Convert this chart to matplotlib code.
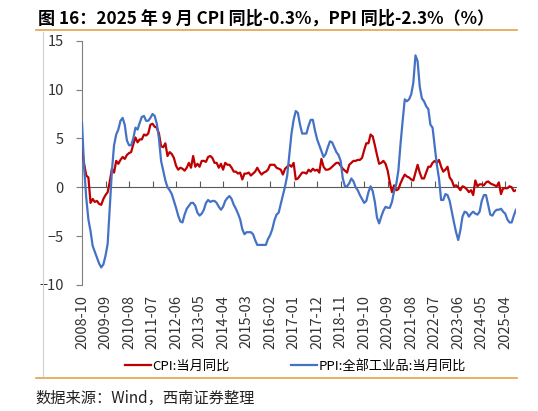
import numpy as np
import pandas as pd
import matplotlib.pyplot as plt
from matplotlib.lines import Line2D

plt.rcParams['font.family'] = ['Noto Sans CJK SC', 'DejaVu Sans']

# 月度数据：2008-10 至 2025-09
months = pd.period_range('2008-10', '2025-09', freq='M').strftime('%Y-%m').tolist()

cpi = [4.0, 2.4, 1.2,
       1.0, -1.6, -1.2, -1.5, -1.4, -1.7, -1.8, -1.2, -0.8, -0.5, 0.6, 1.9,
       1.5, 2.7, 2.4, 2.8, 3.1, 2.9, 3.3, 3.5, 3.6, 4.4, 5.1, 4.6,
       4.9, 4.9, 5.4, 5.3, 5.5, 6.4, 6.5, 6.2, 6.1, 5.5, 4.2, 4.1,
       4.5, 3.2, 3.6, 3.4, 3.0, 2.2, 1.8, 2.0, 1.9, 1.7, 2.0, 2.5,
       2.0, 3.2, 2.1, 2.4, 2.1, 2.7, 2.7, 2.6, 3.1, 3.2, 3.0, 2.5,
       2.5, 2.0, 2.4, 1.8, 2.5, 2.3, 2.3, 2.0, 1.6, 1.6, 1.4, 1.5,
       0.8, 1.4, 1.4, 1.5, 1.2, 1.4, 1.6, 2.0, 1.6, 1.3, 1.5, 1.6,
       1.8, 2.3, 2.3, 2.3, 2.0, 1.9, 1.8, 1.3, 1.9, 2.1, 2.3, 2.1,
       2.5, 0.8, 0.9, 1.2, 1.5, 1.5, 1.4, 1.8, 1.6, 1.9, 1.7, 1.8,
       1.5, 2.9, 2.1, 1.8, 1.8, 1.9, 2.1, 2.3, 2.5, 2.5, 2.2, 1.9,
       1.7, 1.5, 2.3, 2.5, 2.7, 2.7, 2.8, 2.8, 3.0, 3.8, 4.5, 4.5,
       5.4, 5.2, 4.3, 3.3, 2.4, 2.5, 2.7, 2.4, 1.7, 0.5, -0.5, 0.2,
       -0.3, -0.2, 0.4, 0.9, 1.3, 1.1, 1.0, 0.8, 0.7, 1.5, 2.3, 1.5,
       0.9, 0.9, 1.5, 2.1, 2.1, 2.5, 2.7, 2.5, 2.8, 2.1, 1.6, 1.8,
       2.1, 1.0, 0.7, 0.1, 0.2, 0.0, -0.3, 0.1, 0.0, -0.2, -0.5, -0.3,
       -0.8, 0.7, 0.1, 0.3, 0.3, 0.2, 0.5, 0.6, 0.4, 0.3, 0.2, 0.1,
       0.5, -0.7, -0.1, -0.1, -0.1, 0.1, 0.0, -0.4, -0.3]

ppi = [6.6, 2.0, -1.1,
       -3.3, -4.5, -6.0, -6.6, -7.2, -7.8, -8.2, -7.9, -7.0, -5.8, -2.1, 1.7,
       4.3, 5.4, 5.9, 6.8, 7.1, 6.4, 4.8, 4.3, 4.3, 5.0, 6.1, 5.9,
       6.6, 7.2, 7.3, 6.8, 6.8, 7.1, 7.5, 7.3, 6.5, 5.0, 2.7, 1.7,
       0.7, 0.0, -0.3, -0.7, -1.4, -2.1, -2.9, -3.5, -3.6, -2.8, -2.2, -1.9,
       -1.6, -1.6, -1.9, -2.6, -2.9, -2.7, -2.3, -1.6, -1.3, -1.5, -1.4, -1.4,
       -1.6, -2.0, -2.3, -2.0, -1.4, -1.1, -0.9, -1.2, -1.8, -2.2, -2.7, -3.3,
       -4.3, -4.8, -4.6, -4.6, -4.6, -4.8, -5.4, -5.9, -5.9, -5.9, -5.9, -5.9,
       -5.3, -4.9, -4.3, -3.4, -2.8, -2.6, -1.7, -0.8, 0.1, 1.2, 3.3, 5.5,
       6.9, 7.8, 7.6, 6.4, 5.5, 5.5, 5.5, 6.3, 6.9, 6.9, 5.8, 4.9,
       4.3, 3.7, 3.1, 3.4, 4.1, 4.7, 4.6, 4.1, 3.6, 3.3, 2.7, 0.9,
       0.1, 0.1, 0.4, 0.9, 0.6, 0.0, -0.3, -0.8, -1.2, -1.6, -1.4, -0.5,
       0.1, -0.4, -1.5, -3.1, -3.7, -3.0, -2.4, -2.0, -2.1, -2.1, -1.5, -0.4,
       0.3, 1.7, 4.4, 6.8, 9.0, 8.8, 9.0, 9.5, 10.7, 13.5, 12.9, 10.3,
       9.1, 8.8, 8.3, 8.0, 6.4, 6.1, 4.2, 2.3, 0.9, -1.3, -1.3, -0.7,
       -0.8, -1.4, -2.5, -3.6, -4.6, -5.4, -4.4, -3.0, -2.5, -2.6, -3.0, -2.7,
       -2.5, -2.7, -2.8, -2.5, -1.4, -0.8, -0.8, -1.8, -2.8, -2.9, -2.5, -2.3,
       -2.3, -2.2, -2.5, -2.7, -3.3, -3.6, -3.6, -2.9, -2.3]

x = np.arange(len(months))
tick_idx = x[::11]
tick_labels = [months[i] for i in tick_idx]

fig = plt.figure(figsize=(5.38, 4.11), dpi=100)
ax = fig.add_axes([0.1524, 0.3066, 0.8066, 0.5944])

red = '#C00000'
blue = '#4472C4'
ax.plot(x, cpi, color=red, lw=1.6, label='CPI:当月同比', zorder=3)
ax.plot(x, ppi, color=blue, lw=1.6, label='PPI:全部工业品:当月同比', zorder=3)

ax.set_xlim(0, len(months) - 1)
ax.set_ylim(-10, 15)
ax.set_yticks([-10, -5, 0, 5, 10, 15])
ax.tick_params(axis='y', direction='out', length=4, color='#7f7f7f',
               labelsize=10.5, labelcolor='#333333', pad=9)

for s in ['top', 'right']:
    ax.spines[s].set_visible(False)
ax.spines['left'].set_color('#7f7f7f')
ax.spines['bottom'].set_position(('data', 0))
ax.spines['bottom'].set_color('#595959')
ax.set_xticks(tick_idx)
ax.tick_params(axis='x', direction='in', length=4, color='#595959', labelbottom=False)

# x 轴标签放在图底部
sec = ax.secondary_xaxis('bottom')
sec.set_xticks(tick_idx, tick_labels)
sec.spines['bottom'].set_visible(False)
sec.tick_params(length=0, labelsize=10.5, labelrotation=90, pad=7, labelcolor='#333333')

fig.text(0.07, 0.955, '图 16：2025 年 9 月 CPI 同比-0.3%，PPI 同比-2.3%（%）',
         fontsize=12.3, fontweight='bold', va='center', ha='left')

# 上下装饰线
orange = '#E3A24A'
fig.add_artist(Line2D([36/538, 517/538], [1 - 30/411, 1 - 30/411], color=orange, lw=1.2))
fig.add_artist(Line2D([36/538, 517/538], [1 - 378/411, 1 - 378/411], color=orange, lw=1.2))
fig.add_artist(Line2D([43/538, 43/538], [1 - 32/411, 1 - 376/411], color='#d0d0d0', lw=0.8))

fig.legend(loc='center', bbox_to_anchor=(0.549, 1 - 366/411), ncol=2, frameon=False,
           fontsize=9.5, handlelength=2.0, columnspacing=4.6, handletextpad=0.1)

fig.text(0.066, 1 - 398/411, '数据来源：Wind，西南证券整理', fontsize=11,
         fontstyle='italic', va='center', ha='left', color='#222222')

fig.savefig('out.png', dpi=100)
